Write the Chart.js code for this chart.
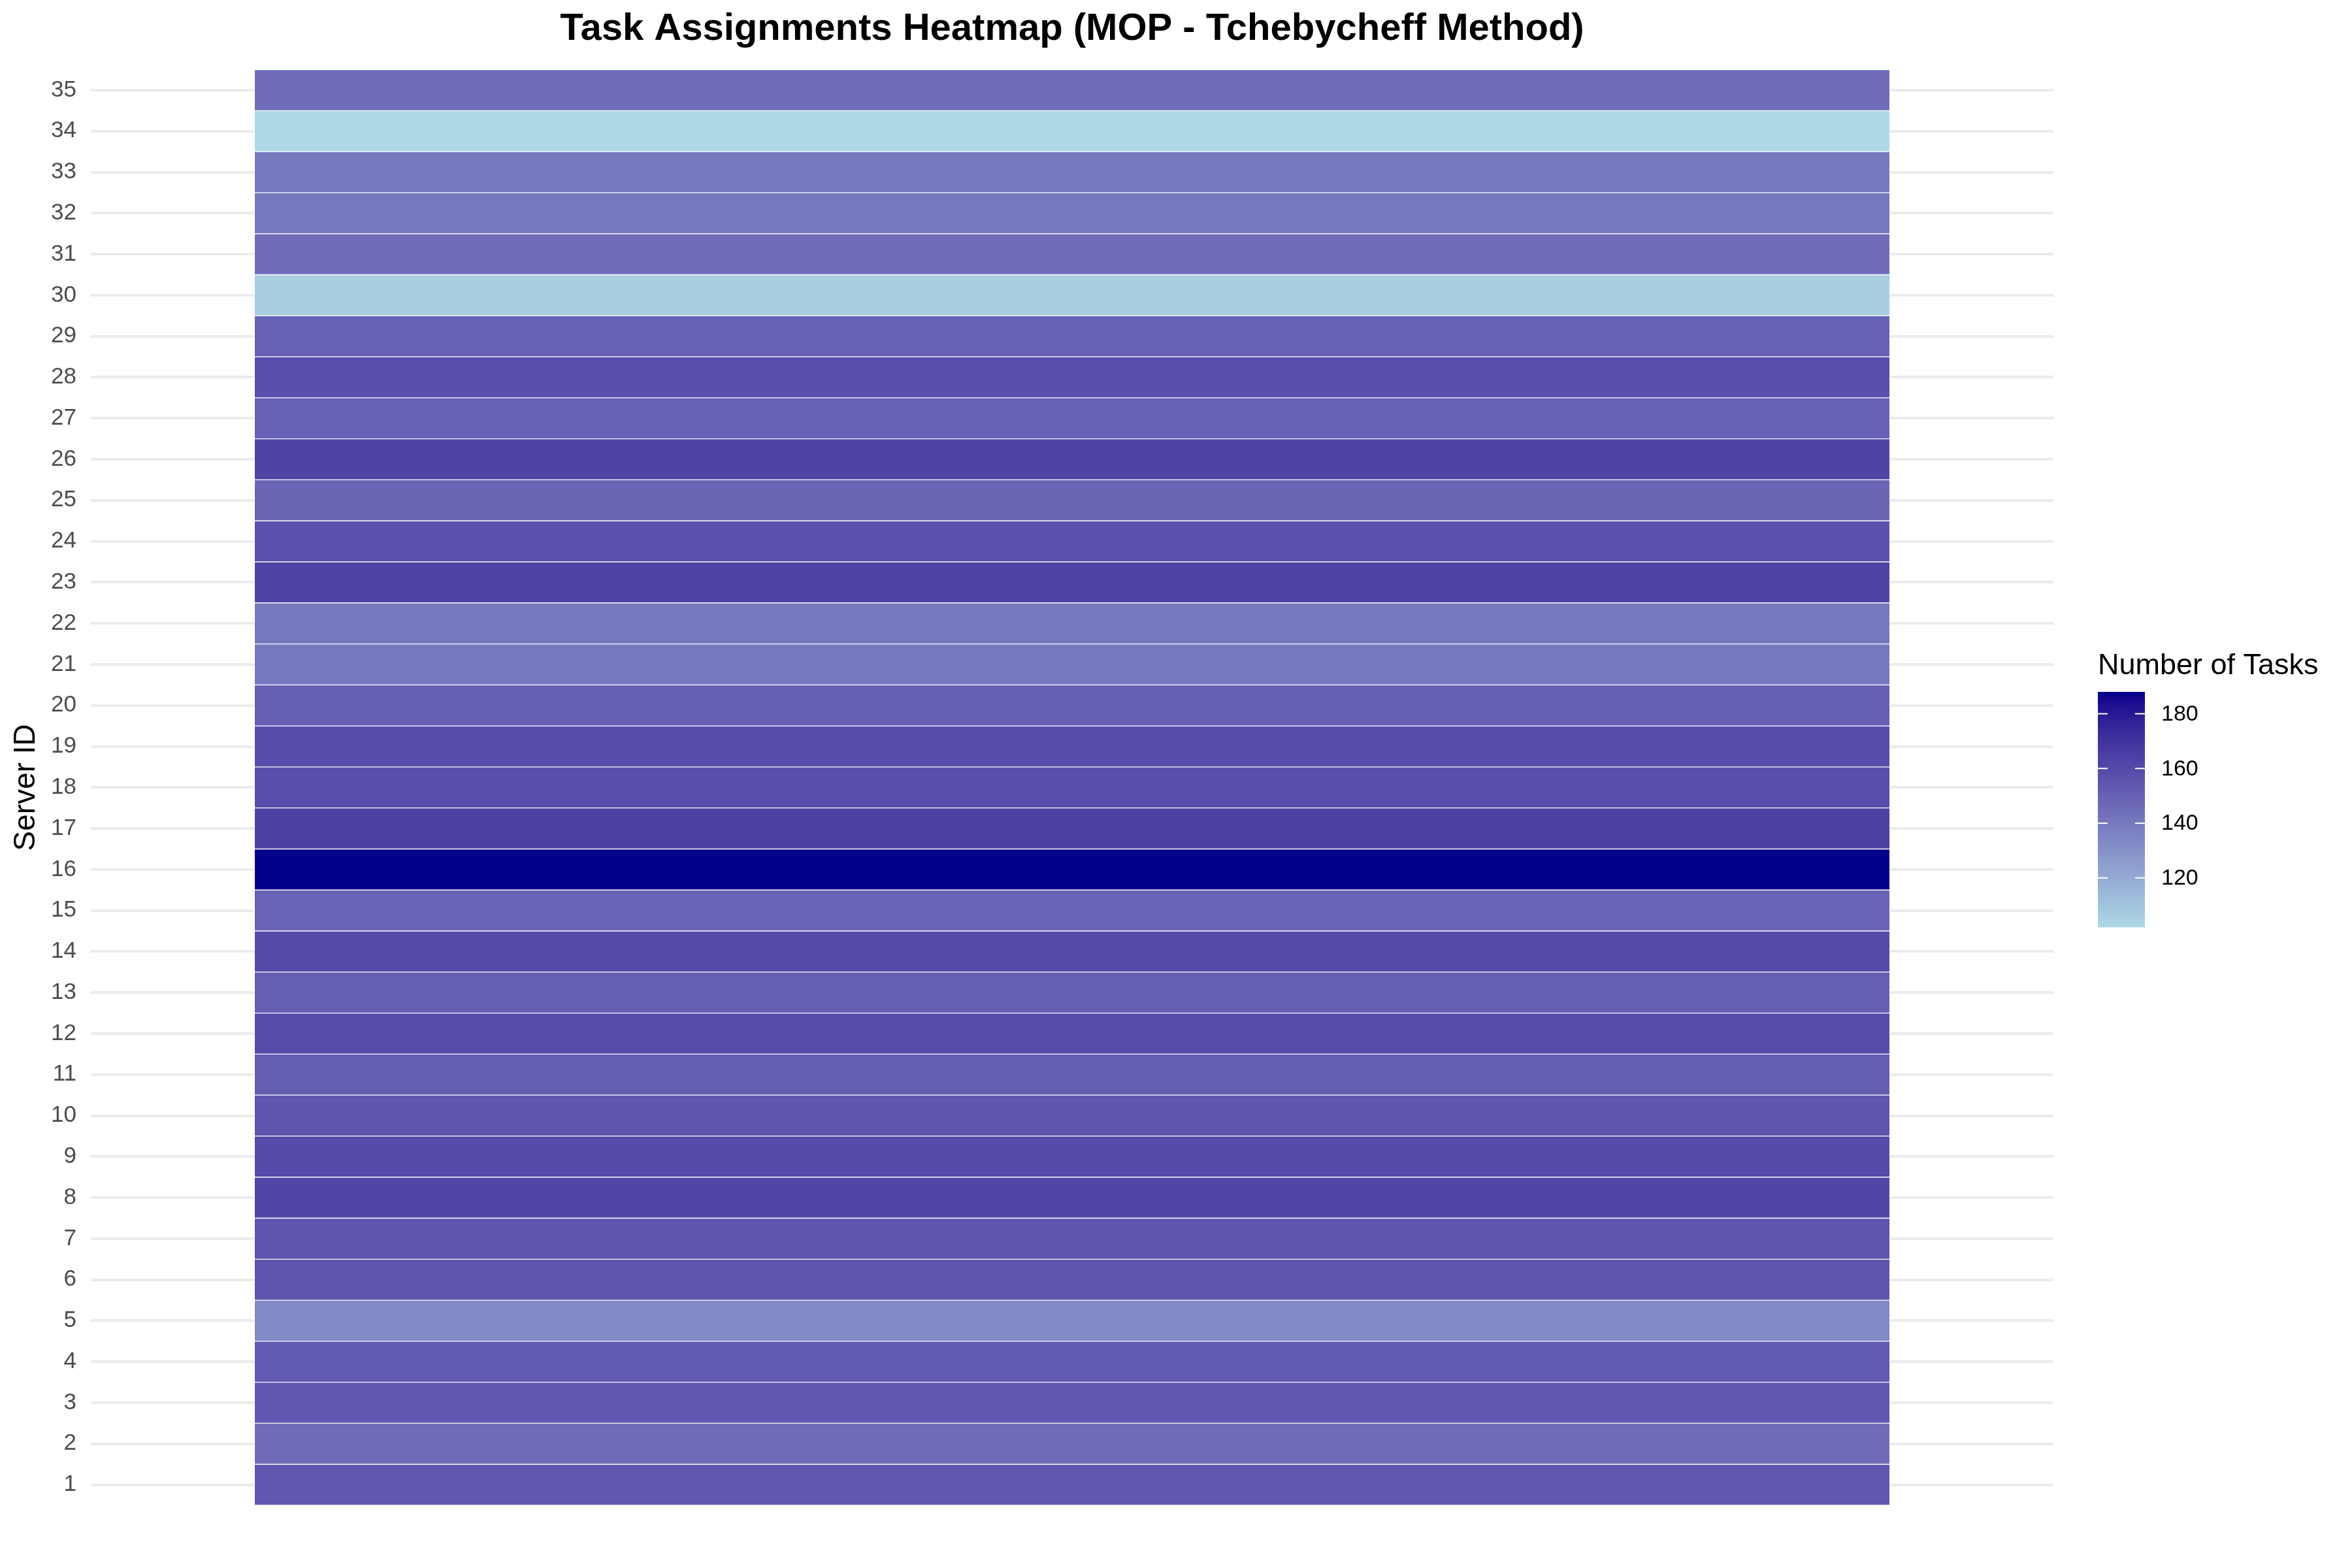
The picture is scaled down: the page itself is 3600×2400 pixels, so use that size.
<!DOCTYPE html>
<html>
<head>
<meta charset="utf-8">
<title>Task Assignments Heatmap</title>
<script src="https://cdn.jsdelivr.net/npm/chart.js@4/dist/chart.umd.min.js"></script>
<style>
  html, body { margin: 0; padding: 0; background: #fff; }
  #wrap { width: 3600px; height: 2400px; position: relative; }
</style>
</head>
<body>
<div id="wrap"><canvas id="heat"></canvas></div>
<script>
// server ids (y categories) and task counts
const servers = ["1","2","3","4","5","6","7","8","9","10","11","12","13","14","15","16","17","18",
  "19","20","21","22","23","24","25","26","27","28","29","30","31","32","33","34","35"];
const tasks = [154, 145, 154, 153, 133, 155, 155, 162, 160, 155, 152, 159, 151, 160, 149, 188, 164, 158,
  159, 151, 140, 140, 163, 157, 148, 163, 150, 158, 150, 106, 145, 140, 140, 102, 145];
const legendTicks = [120, 140, 160, 180];

const FONT = '"Liberation Sans", Arial, Helvetica, sans-serif';
const LOW = "#ADD8E6", HIGH = "#00008B";

// lab colour ramp, like ggplot's scale_fill_gradient
function hexRgb(h) { return [1,3,5].map(i => parseInt(h.slice(i, i+2), 16)); }
function toLin(c) { c /= 255; return c <= 0.04045 ? c / 12.92 : Math.pow((c + 0.055) / 1.055, 2.4); }
function fromLin(c) { c = c <= 0.0031308 ? 12.92 * c : 1.055 * Math.pow(c, 1/2.4) - 0.055; return Math.round(Math.min(1, Math.max(0, c)) * 255); }
const WX = 0.95047, WY = 1, WZ = 1.08883;
function rgbLab(rgb) {
  const [r, g, b] = rgb.map(toLin);
  const x = (0.4124 * r + 0.3576 * g + 0.1805 * b) / WX;
  const y = (0.2126 * r + 0.7152 * g + 0.0722 * b) / WY;
  const z = (0.0193 * r + 0.1192 * g + 0.9505 * b) / WZ;
  const f = t => t > 0.008856 ? Math.cbrt(t) : 7.787 * t + 16/116;
  return [116 * f(y) - 16, 500 * (f(x) - f(y)), 200 * (f(y) - f(z))];
}
function labRgb(lab) {
  const fy = (lab[0] + 16) / 116, fx = fy + lab[1] / 500, fz = fy - lab[2] / 200;
  const inv = t => t*t*t > 0.008856 ? t*t*t : (t - 16/116) / 7.787;
  const x = inv(fx) * WX, y = inv(fy) * WY, z = inv(fz) * WZ;
  const r = 3.2406 * x - 1.5372 * y - 0.4986 * z;
  const g = -0.9689 * x + 1.8758 * y + 0.0415 * z;
  const b = 0.0557 * x - 0.2040 * y + 1.0570 * z;
  return "rgb(" + [r, g, b].map(fromLin).join(",") + ")";
}
const labLo = rgbLab(hexRgb(LOW)), labHi = rgbLab(hexRgb(HIGH));
const vMin = Math.min(...tasks), vMax = Math.max(...tasks);
function ramp(v) {
  const t = (v - vMin) / (vMax - vMin);
  return labRgb(labLo.map((c, i) => c + (labHi[i] - c) * t));
}

// colourbar legend drawn on the right
const colourBar = {
  id: "colourBar",
  afterDraw(chart) {
    const ctx = chart.ctx;
    const x0 = 3211, w = 72, top = 1059, h = 360;
    ctx.save();
    ctx.fillStyle = "#000";
    ctx.font = "45px " + FONT;
    ctx.textAlign = "left";
    ctx.textBaseline = "alphabetic";
    ctx.fillText("Number of Tasks", x0, 1032);
    for (let i = 0; i < h; i++) {
      ctx.fillStyle = ramp(vMax - (vMax - vMin) * (i + 0.5) / h);
      ctx.fillRect(x0, top + i, w, 1.5);
    }
    ctx.strokeStyle = "#fff";
    ctx.lineWidth = 2;
    ctx.font = "34px " + FONT;
    ctx.textBaseline = "middle";
    legendTicks.forEach(v => {
      const y = top + (vMax - v) / (vMax - vMin) * h;
      ctx.beginPath();
      ctx.moveTo(x0, y); ctx.lineTo(x0 + 15, y);
      ctx.moveTo(x0 + w - 15, y); ctx.lineTo(x0 + w, y);
      ctx.stroke();
      ctx.fillStyle = "#000";
      ctx.fillText(String(v), x0 + 97, y + 1);
    });
    ctx.restore();
  }
};

new Chart(document.getElementById("heat"), {
  type: "bar",
  data: {
    labels: servers,
    datasets: [{
      label: "Number of Tasks",
      data: tasks.map(() => [0.5, 1.5]),
      backgroundColor: tasks.map(ramp),
      borderColor: "#ffffff",
      borderWidth: 1,
      borderSkipped: false,
      categoryPercentage: 1,
      barPercentage: 1
    }]
  },
  options: {
    indexAxis: "y",
    responsive: true,
    maintainAspectRatio: false,
    animation: false,
    layout: { padding: { top: 10, right: 457, bottom: 96, left: 0 } },
    plugins: {
      legend: { display: false },
      tooltip: { enabled: false },
      title: {
        display: true,
        text: "Task Assignments Heatmap (MOP - Tchebycheff Method)",
        color: "#000",
        fullSize: false,
        font: { family: FONT, size: 58, weight: "bold" },
        padding: { top: 0, bottom: 27 }
      }
    },
    scales: {
      x: {
        display: false,
        min: 0.4,
        max: 1.6
      },
      y: {
        reverse: true,
        afterFit(scale) { scale.width = 139; },
        grid: { color: "#ebebeb", lineWidth: 4, offset: false, drawTicks: false },
        border: { display: false },
        ticks: { color: "#4d4d4d", padding: 22, font: { family: FONT, size: 35 }, autoSkip: false },
        title: {
          display: true,
          text: "Server ID",
          color: "#000",
          padding: { top: 13, bottom: 0 },
          font: { family: FONT, size: 46 }
        }
      }
    }
  },
  plugins: [colourBar]
});
</script>
</body>
</html>
